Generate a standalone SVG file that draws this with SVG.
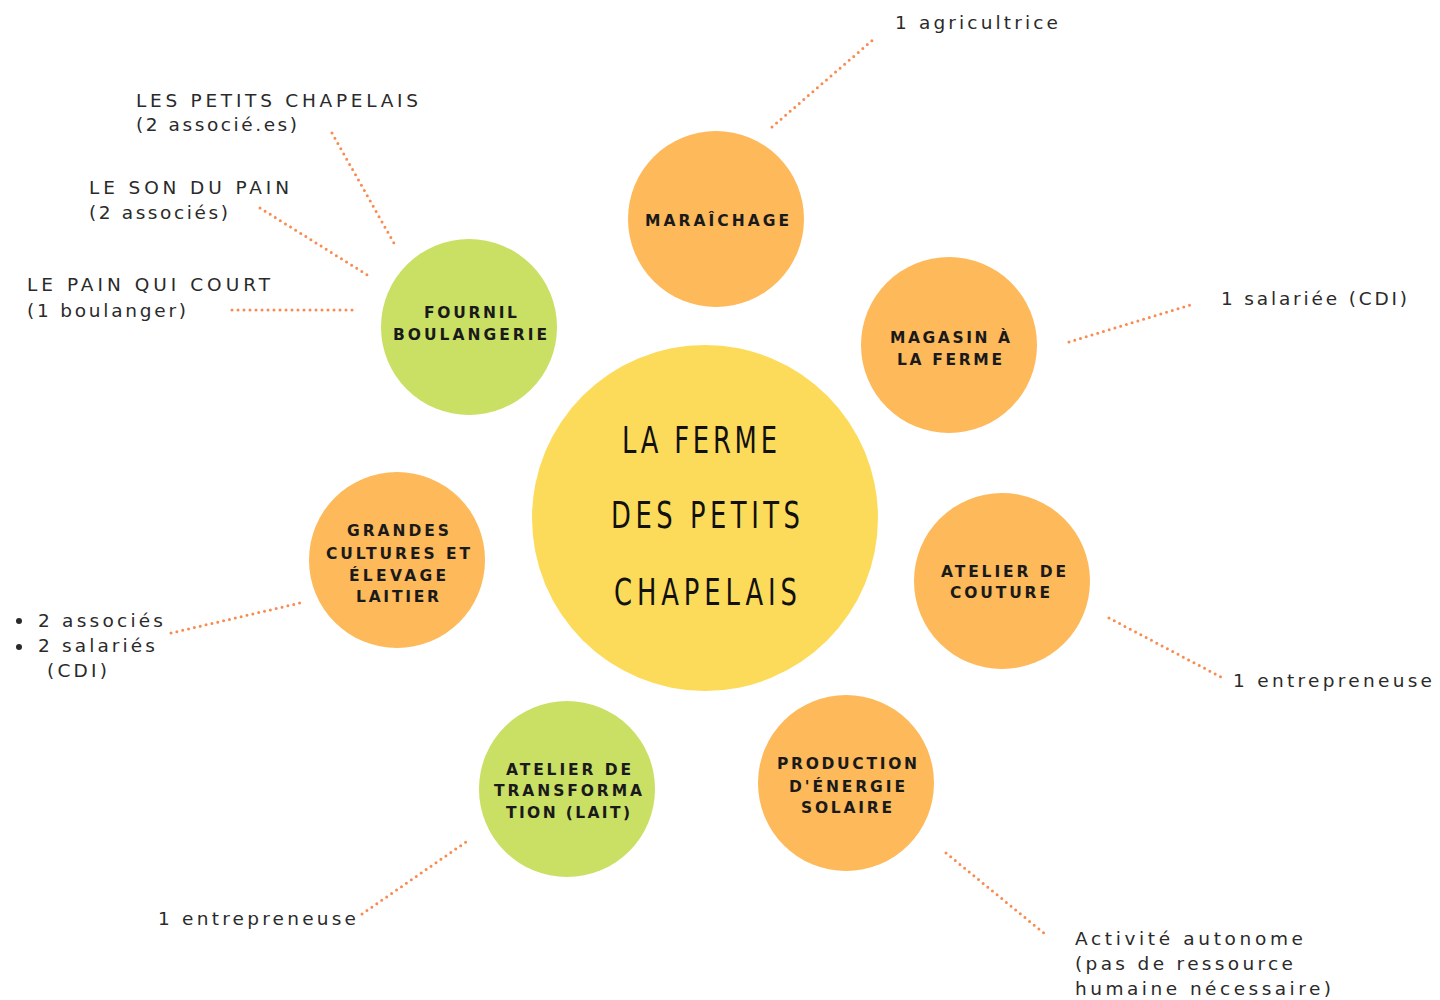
<svg xmlns="http://www.w3.org/2000/svg" width="1440" height="1000" viewBox="0 0 1440 1000">
<style>
.bg{fill:#ffffff}
.org{fill:#FDB95A}
.grn{fill:#C9E065}
.yel{fill:#FDDB5A}
.lbl{font-family:"DejaVu Sans","Liberation Sans",sans-serif;font-weight:bold;font-size:15.5px;fill:#1a1a1a;text-anchor:middle}
.ttl{font-family:"DejaVu Sans","Liberation Sans",sans-serif;font-size:38px;fill:#111;text-anchor:middle}
.txt{font-family:"DejaVu Sans","Liberation Sans",sans-serif;font-size:18.5px;fill:#2a2a2a}
.dot{fill:none;stroke:#F98B50;stroke-width:3;stroke-linecap:round;stroke-dasharray:0 6}
</style>
<rect class="bg" x="0" y="0" width="1440" height="1000"/>
<g id="connectors">
<line class="dot" x1="772" y1="127" x2="875" y2="38"/>
<line class="dot" x1="332" y1="133" x2="395" y2="245"/>
<line class="dot" x1="260" y1="208" x2="369" y2="276"/>
<line class="dot" x1="232" y1="310" x2="358" y2="310"/>
<line class="dot" x1="1069" y1="342" x2="1190" y2="305"/>
<line class="dot" x1="171" y1="633" x2="300" y2="603"/>
<line class="dot" x1="1109" y1="618" x2="1221" y2="677"/>
<line class="dot" x1="362" y1="914" x2="466" y2="842"/>
<line class="dot" x1="946" y1="853" x2="1045" y2="934"/>
</g>
<g id="center">
<circle class="yel" cx="705" cy="518" r="173"/>
<g transform="translate(705,0) scale(0.68,1)">
<text class="ttl" x="-8.1" y="453" textLength="228" lengthAdjust="spacing">LA FERME</text>
<text class="ttl" x="0.7" y="528" textLength="278" lengthAdjust="spacing">DES PETITS</text>
<text class="ttl" x="0.7" y="605" textLength="269" lengthAdjust="spacing">CHAPELAIS</text>
</g>
</g>
<g id="maraichage">
<circle class="org" cx="716" cy="219" r="88"/>
<text class="lbl" x="717" y="226" textLength="144" lengthAdjust="spacing">MARAÎCHAGE</text>
</g>
<g id="fournil">
<circle class="grn" cx="469" cy="327" r="88"/>
<text class="lbl" x="470.5" y="318" textLength="93" lengthAdjust="spacing">FOURNIL</text>
<text class="lbl" x="470" y="340" textLength="154" lengthAdjust="spacing">BOULANGERIE</text>
</g>
<g id="magasin">
<circle class="org" cx="949" cy="345" r="88"/>
<text class="lbl" x="950" y="343" textLength="120" lengthAdjust="spacing">MAGASIN À</text>
<text class="lbl" x="949.5" y="365" textLength="105" lengthAdjust="spacing">LA FERME</text>
</g>
<g id="grandes-cultures">
<circle class="org" cx="397" cy="560" r="88"/>
<text class="lbl" x="398" y="536" textLength="102" lengthAdjust="spacing">GRANDES</text>
<text class="lbl" x="398" y="559" textLength="144" lengthAdjust="spacing">CULTURES ET</text>
<text class="lbl" x="397.5" y="581" textLength="97" lengthAdjust="spacing">ÉLEVAGE</text>
<text class="lbl" x="397.5" y="602" textLength="83" lengthAdjust="spacing">LAITIER</text>
</g>
<g id="couture">
<circle class="org" cx="1002" cy="581" r="88"/>
<text class="lbl" x="1003.5" y="577" textLength="125" lengthAdjust="spacing">ATELIER DE</text>
<text class="lbl" x="1000" y="598" textLength="100" lengthAdjust="spacing">COUTURE</text>
</g>
<g id="transformation">
<circle class="grn" cx="567" cy="789" r="88"/>
<text class="lbl" x="568.5" y="775" textLength="125" lengthAdjust="spacing">ATELIER DE</text>
<text class="lbl" x="568" y="796" textLength="148" lengthAdjust="spacing">TRANSFORMA</text>
<text class="lbl" x="568" y="818" textLength="124" lengthAdjust="spacing">TION (LAIT)</text>
</g>
<g id="energie">
<circle class="org" cx="846" cy="783" r="88"/>
<text class="lbl" x="847" y="769" textLength="140" lengthAdjust="spacing">PRODUCTION</text>
<text class="lbl" x="847" y="792" textLength="116" lengthAdjust="spacing">D'ÉNERGIE</text>
<text class="lbl" x="846.5" y="813" textLength="91" lengthAdjust="spacing">SOLAIRE</text>
</g>
<g id="labels">
<text class="txt" x="895" y="29" textLength="163" lengthAdjust="spacing">1 agricultrice</text>
<text class="txt" x="136" y="107" textLength="282" lengthAdjust="spacing">LES PETITS CHAPELAIS</text>
<text class="txt" x="136" y="131" textLength="161" lengthAdjust="spacing">(2 associé.es)</text>
<text class="txt" x="89" y="194" textLength="200" lengthAdjust="spacing">LE SON DU PAIN</text>
<text class="txt" x="89" y="219" textLength="139" lengthAdjust="spacing">(2 associés)</text>
<text class="txt" x="27" y="291" textLength="243" lengthAdjust="spacing">LE PAIN QUI COURT</text>
<text class="txt" x="27" y="317" textLength="159" lengthAdjust="spacing">(1 boulanger)</text>
<text class="txt" x="1221" y="305" textLength="186" lengthAdjust="spacing">1 salariée (CDI)</text>
<circle cx="19" cy="621" r="3" fill="#2a2a2a"/>
<circle cx="19" cy="647" r="3" fill="#2a2a2a"/>
<text class="txt" x="38" y="627" textLength="125" lengthAdjust="spacing">2 associés</text>
<text class="txt" x="38" y="652" textLength="117" lengthAdjust="spacing">2 salariés</text>
<text class="txt" x="47" y="677" textLength="60" lengthAdjust="spacing">(CDI)</text>
<text class="txt" x="1233" y="687" textLength="199" lengthAdjust="spacing">1 entrepreneuse</text>
<text class="txt" x="158" y="925" textLength="198" lengthAdjust="spacing">1 entrepreneuse</text>
<text class="txt" x="1075" y="945" textLength="228" lengthAdjust="spacing">Activité autonome</text>
<text class="txt" x="1075" y="970" textLength="218" lengthAdjust="spacing">(pas de ressource</text>
<text class="txt" x="1075" y="995" textLength="256" lengthAdjust="spacing">humaine nécessaire)</text>
</g>
</svg>
